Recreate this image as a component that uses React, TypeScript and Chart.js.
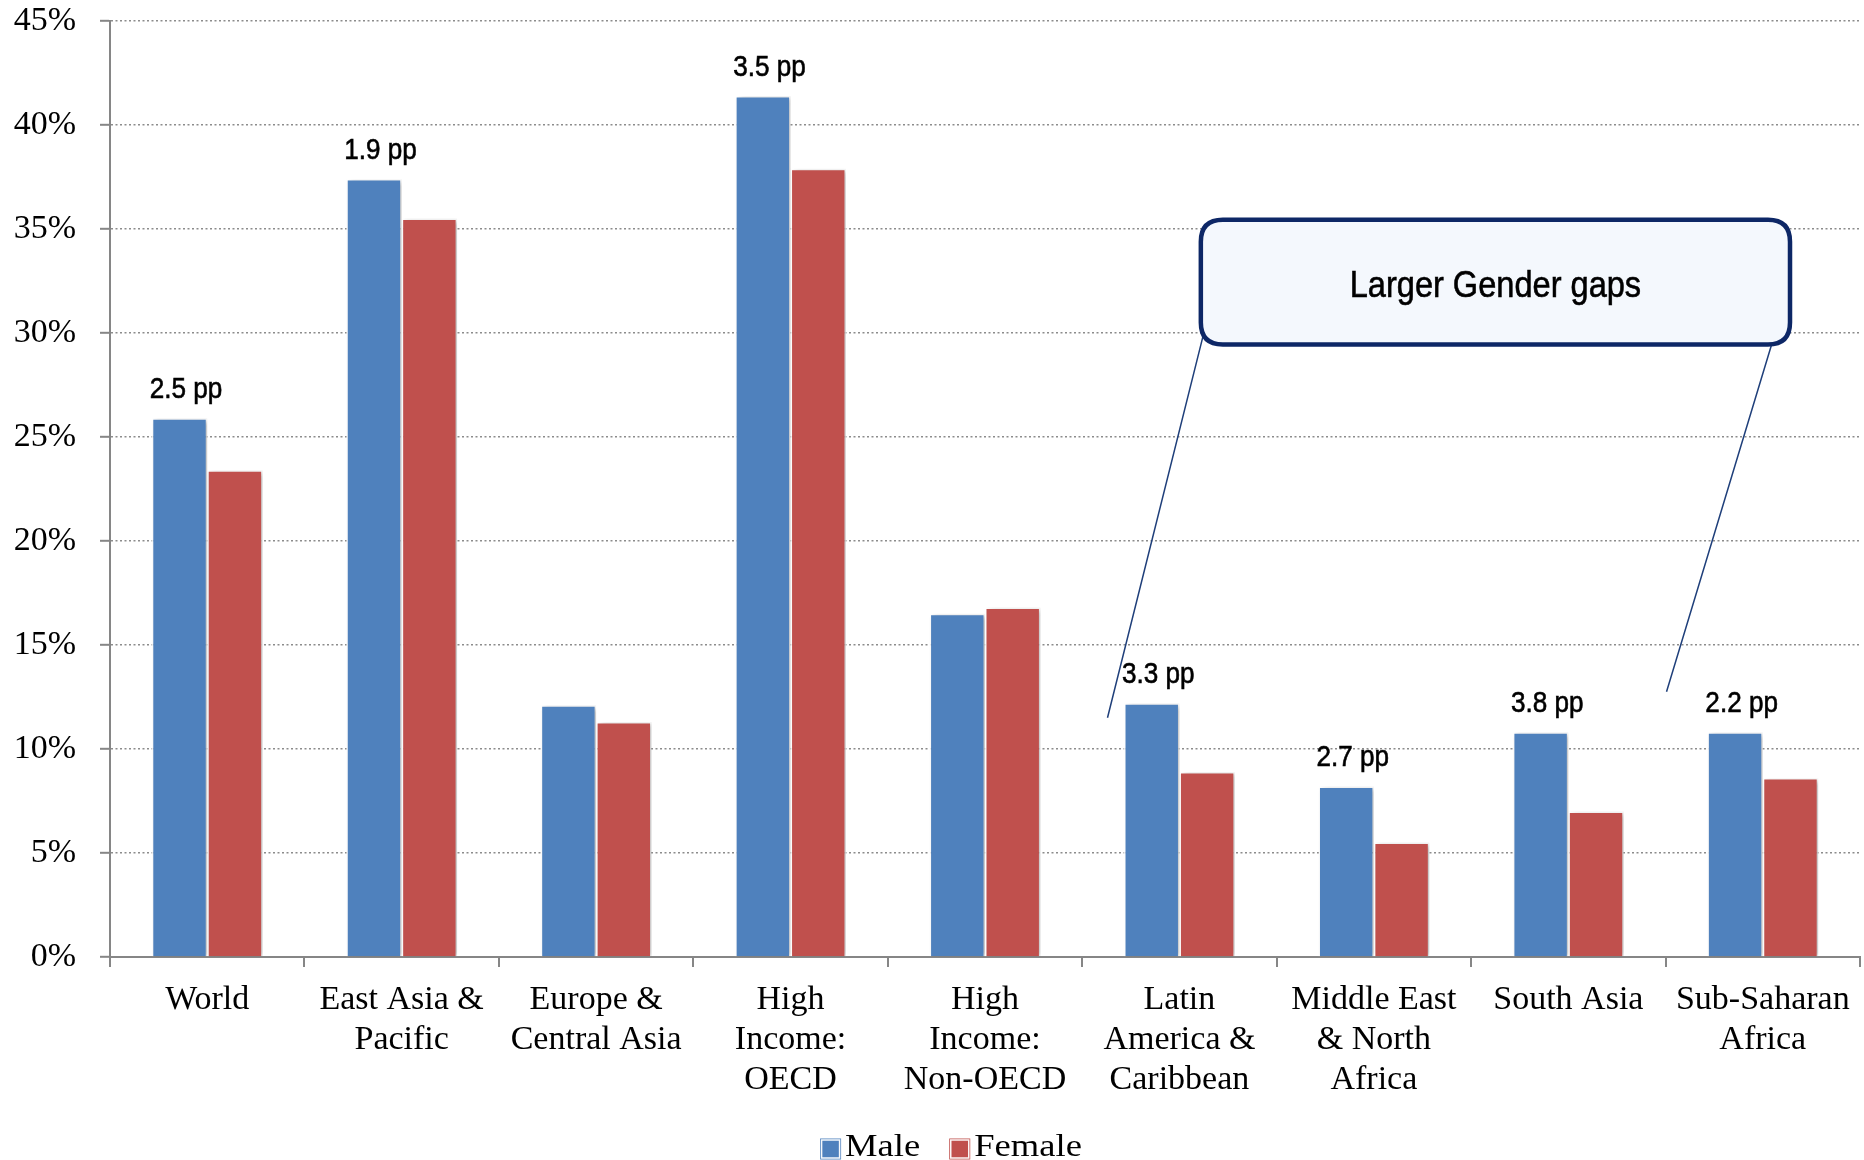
import React, { useEffect, useRef } from "react";
import { Chart, registerables } from "chart.js";

Chart.register(...registerables);

// Regions on the category axis (multi-line labels)
const categories: (string | string[])[] = [
  "World",
  ["East Asia &", "Pacific"],
  ["Europe &", "Central Asia"],
  ["High", "Income:", "OECD"],
  ["High", "Income:", "Non-OECD"],
  ["Latin", "America &", "Caribbean"],
  ["Middle East", "& North", "Africa"],
  "South Asia",
  ["Sub-Saharan", "Africa"],
];

// Share of adults (%) by sex
const maleValues = [25.9, 37.4, 12.1, 41.4, 16.5, 12.2, 8.2, 10.8, 10.8];
const femaleValues = [23.4, 35.5, 11.3, 37.9, 16.8, 8.9, 5.5, 7.0, 8.6];

// Regions that get a gender-gap label above the bars
const showGap = [true, true, false, true, false, true, true, true, true];

const yTicks = [0, 5, 10, 15, 20, 25, 30, 35, 40, 45];

const seriesNames = ["Male", "Female"];
const seriesColors = ["#4F81BD", "#C0504D"];

const calloutText = "Larger Gender gaps";

const SERIF = '"Liberation Serif", "Times New Roman", serif';
const SANS = '"Liberation Sans", Arial, sans-serif';

// Draw text squeezed or stretched horizontally around its anchor point
function drawScaledText(ctx: any, text: string, x: number, y: number, sx: number, embolden = 0) {
  ctx.save();
  ctx.translate(x, y);
  ctx.scale(sx, 1);
  ctx.fillText(text, 0, 0);
  if (embolden > 0) {
    ctx.lineWidth = embolden;
    ctx.strokeStyle = ctx.fillStyle;
    ctx.strokeText(text, 0, 0);
  }
  ctx.restore();
}

const barShadow = {
  id: "barShadow",
  beforeDatasetsDraw(chart: any) {
    const ctx = chart.ctx;
    ctx.save();
    ctx.shadowColor = "rgba(0,0,0,0.25)";
    ctx.shadowBlur = 5;
    ctx.shadowOffsetX = 3;
    ctx.shadowOffsetY = 1;
  },
  afterDatasetsDraw(chart: any) {
    chart.ctx.restore();
  },
};

const gapLabels = {
  id: "gapLabels",
  afterDatasetsDraw(chart: any) {
    const ctx = chart.ctx;
    const meta = chart.getDatasetMeta(0);
    ctx.save();
    ctx.font = `29px ${SANS}`;
    ctx.fillStyle = "#000";
    ctx.textAlign = "left";
    ctx.textBaseline = "alphabetic";
    meta.data.forEach((bar: any, i: number) => {
      if (!showGap[i]) return;
      const gap = (maleValues[i] - femaleValues[i]).toFixed(1) + " pp";
      const left = bar.x - bar.width / 2;
      drawScaledText(ctx, gap, left - 2, bar.y - 20, 0.9, 0.6);
    });
    ctx.restore();
  },
};

const callout = {
  id: "callout",
  afterDraw(chart: any) {
    const ctx = chart.ctx;
    const xs = chart.scales.x;
    const ys = chart.scales.y;
    const px = (v: number) => xs.getPixelForValue(v);
    const py = (v: number) => ys.getPixelForValue(v);

    // leader lines
    ctx.save();
    ctx.strokeStyle = "#1F3F7A";
    ctx.lineWidth = 1.5;
    ctx.beginPath();
    ctx.moveTo(px(5.12), py(29.8));
    ctx.lineTo(px(4.63), py(11.5));
    ctx.moveTo(px(8.07), py(30.2));
    ctx.lineTo(px(7.505), py(12.75));
    ctx.stroke();

    // rounded box
    const x0 = px(5.11);
    const x1 = px(8.14);
    const y0 = py(35.45);
    const y1 = py(29.45);
    const r = 22;
    ctx.beginPath();
    ctx.moveTo(x0 + r, y0);
    ctx.lineTo(x1 - r, y0);
    ctx.quadraticCurveTo(x1, y0, x1, y0 + r);
    ctx.lineTo(x1, y1 - r);
    ctx.quadraticCurveTo(x1, y1, x1 - r, y1);
    ctx.lineTo(x0 + r, y1);
    ctx.quadraticCurveTo(x0, y1, x0, y1 - r);
    ctx.lineTo(x0, y0 + r);
    ctx.quadraticCurveTo(x0, y0, x0 + r, y0);
    ctx.closePath();
    ctx.fillStyle = "#F4F8FD";
    ctx.fill();
    ctx.lineWidth = 4.5;
    ctx.strokeStyle = "#0D2766";
    ctx.stroke();

    ctx.fillStyle = "#000";
    ctx.font = `37px ${SANS}`;
    ctx.textAlign = "center";
    ctx.textBaseline = "middle";
    drawScaledText(ctx, calloutText, (x0 + x1) / 2, (y0 + y1) / 2 + 5, 0.88, 0.6);
    ctx.restore();
  },
};

const bottomLegend = {
  id: "bottomLegend",
  afterDraw(chart: any) {
    const ctx = chart.ctx;
    ctx.save();
    ctx.font = `31px ${SERIF}`;
    ctx.textBaseline = "middle";
    ctx.textAlign = "left";
    const stretch = 1.18;
    const box = 21;
    const gapBox = 4;
    const gapItem = 29;
    const widths = seriesNames.map((n) => box + gapBox + ctx.measureText(n).width * stretch);
    const total = widths.reduce((a, b) => a + b, 0) + gapItem * (seriesNames.length - 1);
    let x = chart.width / 2 - total / 2 + 19;
    const cy = chart.height - 12;
    seriesNames.forEach((name, i) => {
      ctx.fillStyle = seriesColors[i];
      ctx.fillRect(x, cy - box / 2 + 1, box, box);
      ctx.strokeStyle = "rgba(255,255,255,0.95)";
      ctx.lineWidth = 1.5;
      ctx.strokeRect(x + 1.5, cy - box / 2 + 2.5, box - 3, box - 3);
      ctx.fillStyle = "#000";
      drawScaledText(ctx, name, x + box + gapBox, cy, stretch);
      x += widths[i] + gapItem;
    });
    ctx.restore();
  },
};

export default function App() {
  const canvasRef = useRef<HTMLCanvasElement | null>(null);

  useEffect(() => {
    document.body.style.margin = "0";
    const canvas = canvasRef.current;
    if (!canvas) return;
    const chart = new Chart(canvas, {
      type: "bar",
      data: {
        labels: categories,
        datasets: [
          {
            label: seriesNames[0],
            data: maleValues,
            backgroundColor: seriesColors[0],
            borderColor: "rgba(255,255,255,0.85)",
            borderWidth: 1.5,
            categoryPercentage: 0.57,
            barPercentage: 1.0,
          },
          {
            label: seriesNames[1],
            data: femaleValues,
            backgroundColor: seriesColors[1],
            borderColor: "rgba(255,255,255,0.85)",
            borderWidth: 1.5,
            categoryPercentage: 0.57,
            barPercentage: 1.0,
          },
        ],
      },
      options: {
        responsive: false,
        animation: false,
        layout: { padding: { top: 0, right: 4, left: 0, bottom: 0 } },
        plugins: {
          legend: { display: false },
          tooltip: { enabled: false },
        },
        scales: {
          x: {
            grid: {
              display: true,
              drawOnChartArea: false,
              drawTicks: true,
              tickLength: 10,
              offset: true,
              color: "#868686",
              lineWidth: 2,
            },
            border: { display: true, color: "#868686", width: 2 },
            ticks: {
              color: "#000",
              font: { family: SERIF, size: 34, lineHeight: 1.18 },
              padding: 13,
              maxRotation: 0,
              autoSkip: false,
            },
            afterFit(scale: any) {
              scale.height = 203;
            },
          },
          y: {
            min: 0,
            max: 45,
            afterBuildTicks(scale: any) {
              scale.ticks = yTicks.map((v) => ({ value: v }));
            },
            grid: {
              color: "#8C8C8C",
              lineWidth: 1.6,
              tickBorderDash: [],
              tickColor: "#868686",
              tickWidth: 2,
              tickLength: 10,
              drawTicks: true,
            },
            border: { display: true, color: "#868686", width: 2, dash: [2, 2.5] },
            ticks: {
              color: "#000",
              font: { family: SERIF, size: 34 },
              padding: 24,
              callback: (v: any) => v + "%",
            },
            afterFit(scale: any) {
              scale.width = 110;
              scale.paddingTop = 21;
              scale.paddingBottom = 0;
            },
          },
        },
      },
      plugins: [barShadow, gapLabels, callout, bottomLegend],
    });
    return () => chart.destroy();
  }, []);

  return (
    <div style={{ position: "absolute", left: 0, top: 0, width: 1864, height: 1160, background: "#fff" }}>
      <canvas ref={canvasRef} width={1864} height={1160} />
    </div>
  );
}
